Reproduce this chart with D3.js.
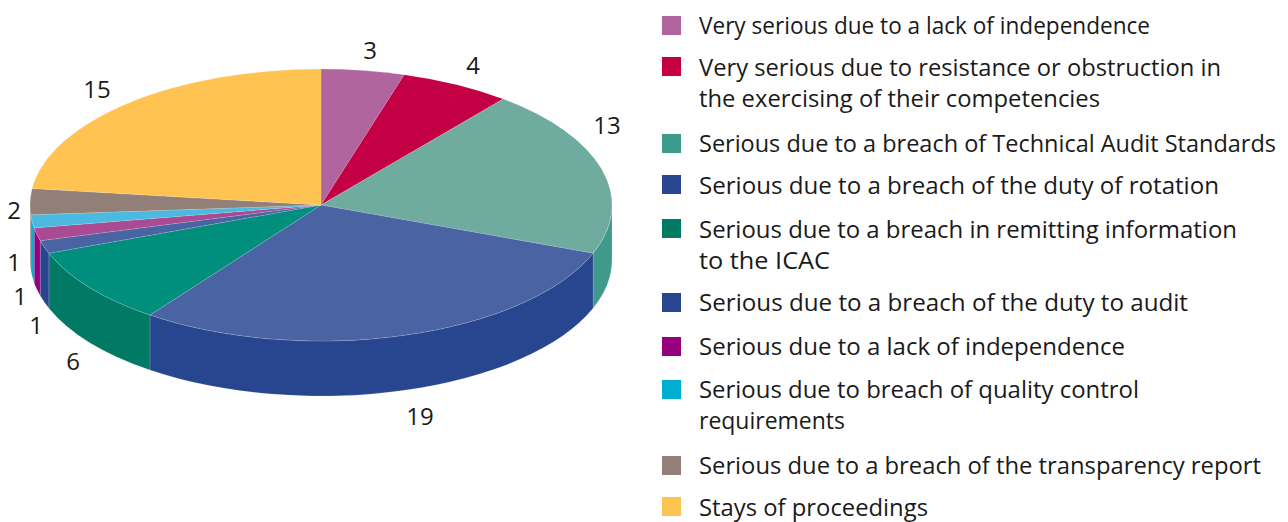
<!DOCTYPE html>
<html><head><meta charset="utf-8">
<script src="https://cdn.jsdelivr.net/npm/d3@7"></script>
<style>html,body{margin:0;background:#fff}svg{display:block}text{font-family:"Open Sans",sans-serif;fill:#1a1a1a}</style>
</head><body><svg id="c" width="1288" height="522"></svg>
<script>
const categories = [
  ["Very serious due to a lack of independence"],
  ["Very serious due to resistance or obstruction in","the exercising of their competencies"],
  ["Serious due to a breach of Technical Audit Standards"],
  ["Serious due to a breach of the duty of rotation"],
  ["Serious due to a breach in remitting information","to the ICAC"],
  ["Serious due to a breach of the duty to audit"],
  ["Serious due to a lack of independence"],
  ["Serious due to breach of quality control","requirements"],
  ["Serious due to a breach of the transparency report"],
  ["Stays of proceedings"]
];
const values = [3,4,13,19,6,1,1,1,2,15];
const topColors = ["#b0659f","#c40045","#6fab9e","#4a63a3","#008f7c","#4a63a3","#a84b92","#4bb9e0","#928078","#ffc352"];
const sideColors = ["#b0659f","#c40045","#3f9a8c","#27468f","#007a64","#27468f","#960080","#00aed1","#928078","#ffc352"];

// layout
const cx=321, cy=205, rx=291, ry=136, depth=55;
const legendSwatchY=[16,57,134,175,219,293,337,380,456,497];
const legendBaseY=[34,76,152,194,238,311,355,398,474,516];
const legendLineEnd=[[1150],[1221,1100],[1276],[1219],[1237,830],[1188],[1125],[1139,845],[1261],[928]];
const lineGap=31, fontSize=24;
const labelPos=[[370,59],[473,74],[607,134],[420,425],[73,370],[36,334],[20,305],[14,271],[14,219],[97,98]];

const svg=d3.select("#c");
const pie=d3.pie().sort(null).startAngle(0).endAngle(2*Math.PI);
const arcs=pie(values);
const px=a=>cx+rx*Math.sin(a), py=(a,d=0)=>cy-ry*Math.cos(a)+d;

// side walls (only the front half of the disc is visible)
const sides=svg.append("g");
arcs.forEach((s,i)=>{
  const a0=Math.max(s.startAngle,Math.PI/2), a1=Math.min(s.endAngle,3*Math.PI/2);
  if(a1<=a0) return;
  const p=`M${px(a0)},${py(a0)}A${rx},${ry} 0 0 1 ${px(a1)},${py(a1)}L${px(a1)},${py(a1,depth)}A${rx},${ry} 0 0 0 ${px(a0)},${py(a0,depth)}Z`;
  sides.append("path").attr("d",p).attr("fill",sideColors[i]).attr("stroke","#fff").attr("stroke-opacity",.25).attr("stroke-width",.6);
});

// top face
const arc=d3.arc().innerRadius(0).outerRadius(rx);
svg.append("g").attr("transform",`translate(${cx},${cy}) scale(1,${ry/rx})`)
  .selectAll("path").data(arcs).join("path")
  .attr("d",arc).attr("fill",(d,i)=>topColors[i])
  .attr("stroke","#fff").attr("stroke-opacity",.3).attr("stroke-width",.6);

// value labels
svg.append("g").selectAll("text").data(values).join("text")
  .attr("x",(d,i)=>labelPos[i][0]).attr("y",(d,i)=>labelPos[i][1])
  .attr("text-anchor","middle").attr("font-size",fontSize).text(d=>d);

// legend
const lg=svg.append("g");
categories.forEach((lines,i)=>{
  lg.append("rect").attr("x",662).attr("y",legendSwatchY[i]).attr("width",19).attr("height",19).attr("fill",sideColors[i]);
  lines.forEach((t,j)=>lg.append("text").attr("x",699).attr("y",legendBaseY[i]+j*lineGap).attr("font-size",fontSize)
    .attr("textLength",legendLineEnd[i][j]-699).attr("lengthAdjust","spacingAndGlyphs").text(t));
});
</script></body></html>
